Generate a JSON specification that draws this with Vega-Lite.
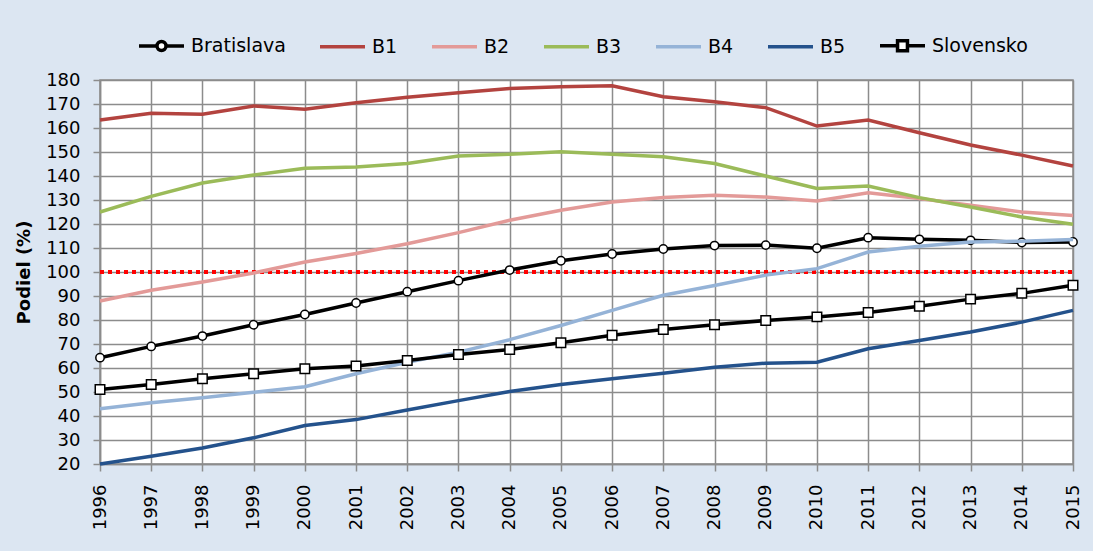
{
  "$schema": "https://vega.github.io/schema/vega-lite/v6.json",
  "width": 973,
  "height": 384,
  "autosize": {"type": "none"},
  "padding": {"left": 100, "top": 80, "right": 20, "bottom": 87},
  "background": "#dce6f2",
  "config": {
    "font": "DejaVu Sans",
    "view": {"fill": "white", "stroke": "#8c8c8c", "strokeWidth": 1.5},
    "axis": {
      "gridColor": "#8c8c8c", "gridWidth": 1.5, "gridOpacity": 1,
      "domainColor": "#8c8c8c", "domainWidth": 1.5,
      "tickColor": "#8c8c8c", "tickWidth": 1.5, "tickSize": 7,
      "labelFont": "DejaVu Sans", "labelFontSize": 18, "labelColor": "black",
      "labelOverlap": false,
      "titleFont": "DejaVu Sans", "titleFontSize": 18, "titleColor": "black", "titleFontWeight": "bold"
    }
  },
  "datasets": {
    "rows": [
      {"year":1996,"series":"Bratislava","value":64.3},{"year":1997,"series":"Bratislava","value":69},{"year":1998,"series":"Bratislava","value":73.3},{"year":1999,"series":"Bratislava","value":78},{"year":2000,"series":"Bratislava","value":82.3},{"year":2001,"series":"Bratislava","value":87.1},{"year":2002,"series":"Bratislava","value":91.8},{"year":2003,"series":"Bratislava","value":96.4},{"year":2004,"series":"Bratislava","value":100.8},{"year":2005,"series":"Bratislava","value":104.7},{"year":2006,"series":"Bratislava","value":107.5},{"year":2007,"series":"Bratislava","value":109.6},{"year":2008,"series":"Bratislava","value":111},{"year":2009,"series":"Bratislava","value":111.2},{"year":2010,"series":"Bratislava","value":109.9},{"year":2011,"series":"Bratislava","value":114.3},{"year":2012,"series":"Bratislava","value":113.6},{"year":2013,"series":"Bratislava","value":113.2},{"year":2014,"series":"Bratislava","value":112.3},{"year":2015,"series":"Bratislava","value":112.5},
      {"year":1996,"series":"B1","value":163.3},{"year":1997,"series":"B1","value":166.1},{"year":1998,"series":"B1","value":165.7},{"year":1999,"series":"B1","value":169.2},{"year":2000,"series":"B1","value":167.8},{"year":2001,"series":"B1","value":170.5},{"year":2002,"series":"B1","value":172.8},{"year":2003,"series":"B1","value":174.7},{"year":2004,"series":"B1","value":176.5},{"year":2005,"series":"B1","value":177.2},{"year":2006,"series":"B1","value":177.6},{"year":2007,"series":"B1","value":173},{"year":2008,"series":"B1","value":170.9},{"year":2009,"series":"B1","value":168.5},{"year":2010,"series":"B1","value":160.8},{"year":2011,"series":"B1","value":163.3},{"year":2012,"series":"B1","value":158},{"year":2013,"series":"B1","value":152.9},{"year":2014,"series":"B1","value":148.7},{"year":2015,"series":"B1","value":144.2},
      {"year":1996,"series":"B2","value":87.9},{"year":1997,"series":"B2","value":92.4},{"year":1998,"series":"B2","value":95.8},{"year":1999,"series":"B2","value":99.6},{"year":2000,"series":"B2","value":104.2},{"year":2001,"series":"B2","value":107.7},{"year":2002,"series":"B2","value":111.8},{"year":2003,"series":"B2","value":116.4},{"year":2004,"series":"B2","value":121.6},{"year":2005,"series":"B2","value":125.7},{"year":2006,"series":"B2","value":129.2},{"year":2007,"series":"B2","value":131},{"year":2008,"series":"B2","value":132},{"year":2009,"series":"B2","value":131.2},{"year":2010,"series":"B2","value":129.6},{"year":2011,"series":"B2","value":133},{"year":2012,"series":"B2","value":130.6},{"year":2013,"series":"B2","value":127.8},{"year":2014,"series":"B2","value":125},{"year":2015,"series":"B2","value":123.5},
      {"year":1996,"series":"B3","value":125},{"year":1997,"series":"B3","value":131.5},{"year":1998,"series":"B3","value":137.1},{"year":1999,"series":"B3","value":140.4},{"year":2000,"series":"B3","value":143.2},{"year":2001,"series":"B3","value":143.8},{"year":2002,"series":"B3","value":145.2},{"year":2003,"series":"B3","value":148.3},{"year":2004,"series":"B3","value":149.1},{"year":2005,"series":"B3","value":150.1},{"year":2006,"series":"B3","value":149.1},{"year":2007,"series":"B3","value":148},{"year":2008,"series":"B3","value":145.2},{"year":2009,"series":"B3","value":140},{"year":2010,"series":"B3","value":134.8},{"year":2011,"series":"B3","value":135.8},{"year":2012,"series":"B3","value":131},{"year":2013,"series":"B3","value":127.1},{"year":2014,"series":"B3","value":122.9},{"year":2015,"series":"B3","value":119.9},
      {"year":1996,"series":"B4","value":43},{"year":1997,"series":"B4","value":45.5},{"year":1998,"series":"B4","value":47.6},{"year":1999,"series":"B4","value":49.9},{"year":2000,"series":"B4","value":52.2},{"year":2001,"series":"B4","value":57.6},{"year":2002,"series":"B4","value":62.4},{"year":2003,"series":"B4","value":66.6},{"year":2004,"series":"B4","value":71.8},{"year":2005,"series":"B4","value":77.7},{"year":2006,"series":"B4","value":84},{"year":2007,"series":"B4","value":90.3},{"year":2008,"series":"B4","value":94.4},{"year":2009,"series":"B4","value":98.7},{"year":2010,"series":"B4","value":101.4},{"year":2011,"series":"B4","value":108.3},{"year":2012,"series":"B4","value":110.7},{"year":2013,"series":"B4","value":112.5},{"year":2014,"series":"B4","value":112.8},{"year":2015,"series":"B4","value":113.5},
      {"year":1996,"series":"B5","value":20},{"year":1997,"series":"B5","value":23.2},{"year":1998,"series":"B5","value":26.7},{"year":1999,"series":"B5","value":30.9},{"year":2000,"series":"B5","value":36},{"year":2001,"series":"B5","value":38.5},{"year":2002,"series":"B5","value":42.5},{"year":2003,"series":"B5","value":46.4},{"year":2004,"series":"B5","value":50.2},{"year":2005,"series":"B5","value":53.1},{"year":2006,"series":"B5","value":55.5},{"year":2007,"series":"B5","value":57.8},{"year":2008,"series":"B5","value":60.3},{"year":2009,"series":"B5","value":62},{"year":2010,"series":"B5","value":62.4},{"year":2011,"series":"B5","value":68},{"year":2012,"series":"B5","value":71.5},{"year":2013,"series":"B5","value":75},{"year":2014,"series":"B5","value":79.1},{"year":2015,"series":"B5","value":84},
      {"year":1996,"series":"Slovensko","value":51},{"year":1997,"series":"Slovensko","value":53.1},{"year":1998,"series":"Slovensko","value":55.5},{"year":1999,"series":"Slovensko","value":57.6},{"year":2000,"series":"Slovensko","value":59.7},{"year":2001,"series":"Slovensko","value":60.8},{"year":2002,"series":"Slovensko","value":63.1},{"year":2003,"series":"Slovensko","value":65.6},{"year":2004,"series":"Slovensko","value":67.7},{"year":2005,"series":"Slovensko","value":70.5},{"year":2006,"series":"Slovensko","value":73.6},{"year":2007,"series":"Slovensko","value":76},{"year":2008,"series":"Slovensko","value":78},{"year":2009,"series":"Slovensko","value":79.8},{"year":2010,"series":"Slovensko","value":81.3},{"year":2011,"series":"Slovensko","value":83.1},{"year":2012,"series":"Slovensko","value":85.7},{"year":2013,"series":"Slovensko","value":88.7},{"year":2014,"series":"Slovensko","value":91.1},{"year":2015,"series":"Slovensko","value":94.5}
    ],
    "reference": [
      {"year": 1996, "value": 100},
      {"year": 2015, "value": 100}
    ]
  },
  "data": {"name": "rows"},
  "encoding": {
    "x": {
      "field": "year", "type": "ordinal",
      "scale": {"type": "point", "padding": 0},
      "axis": {"title": null, "labelAngle": -90, "labelPadding": 13, "grid": true}
    },
    "y": {
      "field": "value", "type": "quantitative",
      "scale": {"type": "linear", "domain": [20, 180], "nice": false, "zero": false},
      "axis": {"title": "Podiel (%)", "tickCount": 40, "values": [20, 30, 40, 50, 60, 70, 80, 90, 100, 110, 120, 130, 140, 150, 160, 170, 180], "labelPadding": 13, "titlePadding": 12, "grid": true, "labelOverlap": false}
    }
  },
  "layer": [
    {
      "data": {"name": "reference"},
      "mark": {"type": "line", "color": "#ff0000", "strokeWidth": 4, "strokeDash": [4, 4]}
    },
    {
      "transform": [{"filter": "datum.series === 'Bratislava'"}],
      "mark": {"type": "line", "strokeWidth": 3.5},
      "encoding": {
        "color": {
          "field": "series", "type": "nominal",
          "scale": {
            "domain": ["Bratislava", "B1", "B2", "B3", "B4", "B5", "Slovensko"],
            "range": ["#000000", "#b3433f", "#e39a98", "#9bbb59", "#95b3d7", "#24528c", "#000000"]
          },
          "legend": {
            "orient": "none", "legendX": 37, "legendY": -59,
            "direction": "horizontal", "title": null, "padding": 0,
            "symbolSize": 2025, "symbolStrokeWidth": 3.5,
            "labelFont": "DejaVu Sans", "labelFontSize": 19, "labelColor": "black",
            "labelOffset": 5, "columnPadding": 27,
            "encode": {
              "symbols": {
                "update": {
                  "shape": {"signal": "datum.value === 'Bratislava' ? 'M-1,0H-0.2M0.2,0H1M0.2,0A0.2,0.2,0,1,1,-0.2,0A0.2,0.2,0,1,1,0.2,0Z' : datum.value === 'Slovensko' ? 'M-1,0H-0.22M0.22,0H1M-0.22,-0.22H0.22V0.22H-0.22Z' : 'M-1,0H1'"},
                  "fill": {"value": "white"},
                  "strokeWidth": {"value": 3.5}
                }
              }
            }
          }
        }
      }
    },
    {
      "transform": [{"filter": "datum.series === 'Bratislava'"}],
      "mark": {"type": "point", "shape": "circle", "filled": true, "fill": "white", "stroke": "black", "strokeWidth": 1.5, "size": 70, "opacity": 1}
    },
    {
      "transform": [{"filter": "datum.series !== 'Bratislava' && datum.series !== 'Slovensko'"}],
      "mark": {"type": "line", "strokeWidth": 3.5},
      "encoding": {"color": {"field": "series", "type": "nominal"}}
    },
    {
      "transform": [{"filter": "datum.series === 'Slovensko'"}],
      "mark": {"type": "line", "strokeWidth": 3.5},
      "encoding": {"color": {"field": "series", "type": "nominal"}}
    },
    {
      "transform": [{"filter": "datum.series === 'Slovensko'"}],
      "mark": {"type": "point", "shape": "square", "filled": true, "fill": "white", "stroke": "black", "strokeWidth": 1.5, "size": 90, "opacity": 1}
    }
  ]
}
